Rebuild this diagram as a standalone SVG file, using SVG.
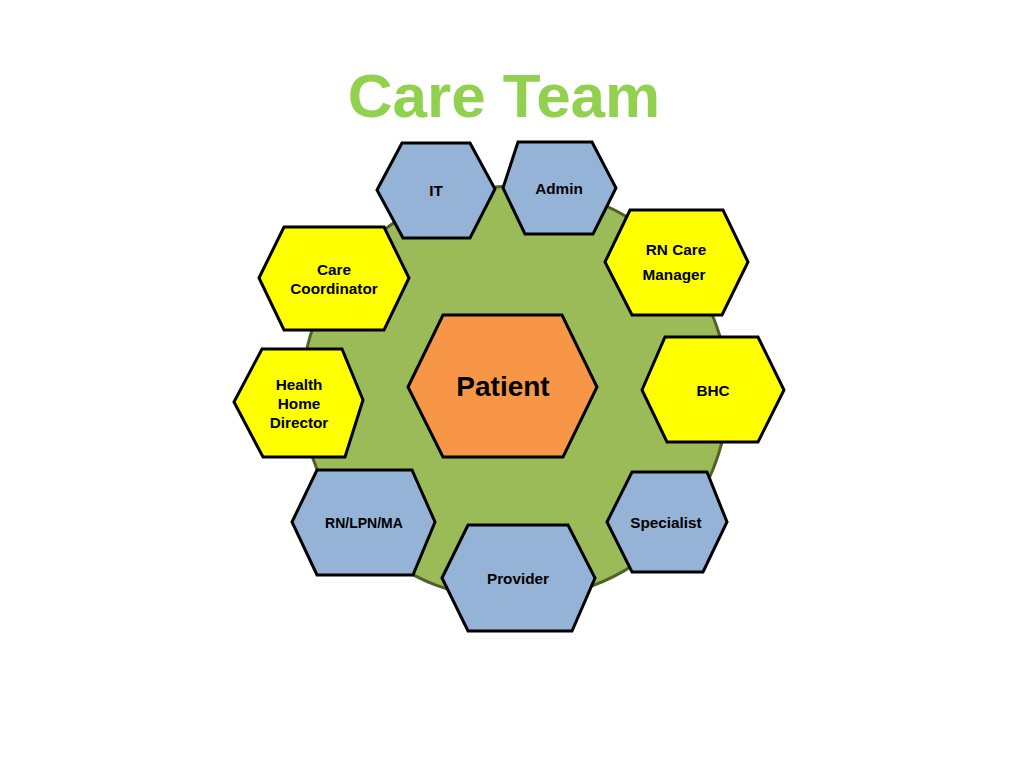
<svg xmlns="http://www.w3.org/2000/svg" width="1024" height="768" viewBox="0 0 1024 768">
<style>
.hex{stroke:#000;stroke-width:3;stroke-linejoin:miter}
.blue{fill:#95B3D7}
.yel{fill:#FFFF00}
.org{fill:#F79646}
.t{font-family:"Liberation Sans",Arial,sans-serif;font-weight:bold;font-size:15.3px;fill:#000;text-anchor:middle}
</style>
<rect width="1024" height="768" fill="#fff"/>
<text x="504" y="117" style="font-family:'Liberation Sans',Arial,sans-serif;font-weight:bold;font-size:62px;fill:#92D050;text-anchor:middle">Care Team</text>
<g id="connectors"></g>
<g id="circle"><ellipse cx="515" cy="393" rx="213" ry="207" fill="#9BBB59" stroke="#4F6228" stroke-width="3"/></g>
<g id="it"><polygon class="hex blue" points="377,190 402,143 470,143 495,189 470,238 403,238"/><text class="t" x="436" y="196">IT</text></g>
<g id="admin"><polygon class="hex blue" points="503,188 518,142 592,142 616,188 593,234 525,234"/><text class="t" x="559" y="194">Admin</text></g>
<g id="care-coordinator"><polygon class="hex yel" points="259,278 284,227 384,227 409,278 384,330 284,330"/><text class="t" x="334" y="275">Care</text><text class="t" x="334" y="294">Coordinator</text></g>
<g id="rn-care-manager"><polygon class="hex yel" points="605,262 630,210 723,210 748,262 722,315 632,315"/><text class="t" x="676" y="255">RN Care</text><text class="t" x="674" y="280">Manager</text></g>
<g id="health-home-director"><polygon class="hex yel" points="234,402 262,349 342,349 363,400 345,457 263,457"/><text class="t" x="299" y="390">Health</text><text class="t" x="299" y="409">Home</text><text class="t" x="299" y="428">Director</text></g>
<g id="patient"><polygon class="hex org" points="408,387 443,315 562,315 597,387 563,457 443,457"/><text class="t" x="503" y="396" style="font-size:28px">Patient</text></g>
<g id="bhc"><polygon class="hex yel" points="642,390 665,337 758,337 784,390 758,442 667,442"/><text class="t" x="713" y="396">BHC</text></g>
<g id="rn-lpn-ma"><polygon class="hex blue" points="292,522 317,470 412,470 435,522 413,575 317,575"/><text class="t" x="364" y="528" style="font-size:14px">RN/LPN/MA</text></g>
<g id="provider"><polygon class="hex blue" points="442,578 468,525 568,525 595,578 572,631 468,631"/><text class="t" x="518" y="584">Provider</text></g>
<g id="specialist"><polygon class="hex blue" points="607,522 632,472 707,472 727,522 703,572 632,572"/><text class="t" x="666" y="528">Specialist</text></g>
</svg>
